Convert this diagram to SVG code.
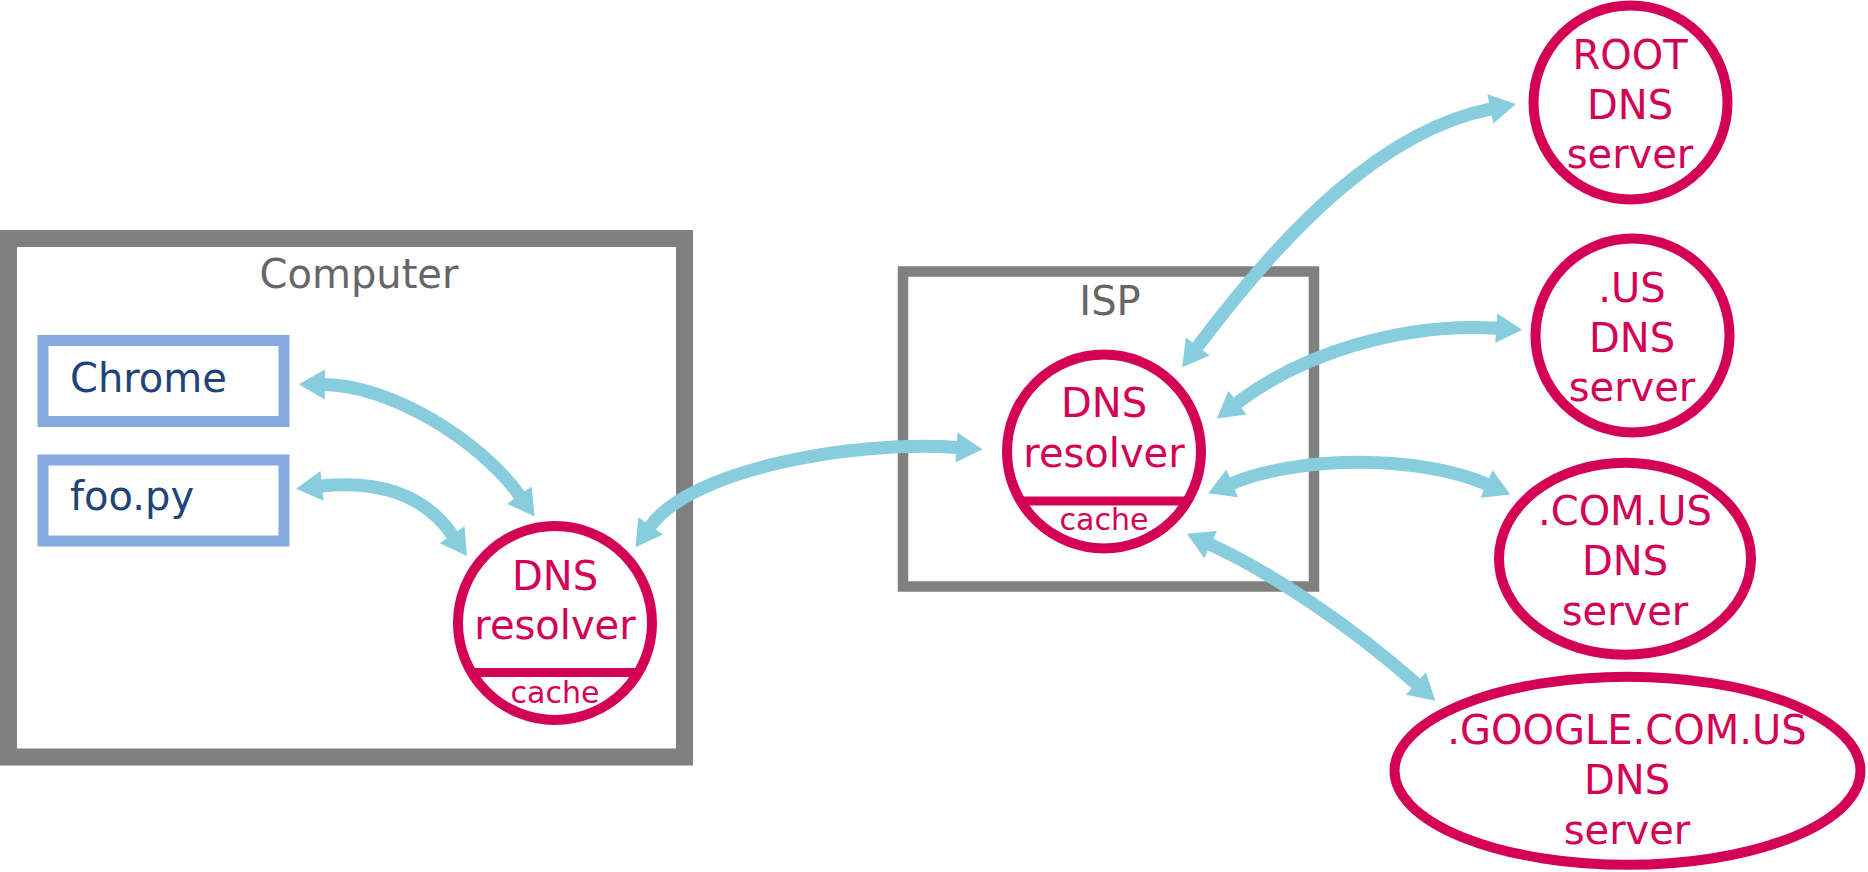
<svg xmlns="http://www.w3.org/2000/svg" width="1868" height="872" viewBox="0 0 1868 872">
  <style>
    text { font-family: "DejaVu Sans", "Liberation Sans", sans-serif; }
    .frame { fill: none; stroke: #808080; }
    .grey { fill: #666666; font-size: 40px; text-anchor: middle; }
    .app { fill: none; stroke: #87aade; stroke-width: 11; }
    .apptxt { fill: #214478; font-size: 40px; }
    .srv { fill: none; stroke: #d40055; stroke-width: 10; }
    .srvtxt { fill: #d40055; font-size: 40px; text-anchor: middle; }
    .cachetxt { fill: #d40055; font-size: 30px; text-anchor: middle; }
    .cacheline { stroke: #d40055; stroke-width: 9; }
    .conn { fill: none; stroke: #87cdde; stroke-width: 13; marker-start: url(#ah); marker-end: url(#ah); }
  </style>
  <defs>
    <marker id="ah" markerUnits="userSpaceOnUse" markerWidth="27" markerHeight="31" refX="1" refY="15.5" orient="auto-start-reverse" overflow="visible">
      <path d="M0,0.5 L26,15.5 L0,30.5 Z" fill="#87cdde"/>
    </marker>
  </defs>

  <g id="computer">
    <rect class="frame" x="8.5" y="238.5" width="676" height="518.5" stroke-width="17"/>
    <text class="grey" x="359" y="288">Computer</text>
  </g>

  <g id="chrome">
    <rect class="app" x="43" y="340.5" width="241" height="81"/>
    <text class="apptxt" x="70" y="392">Chrome</text>
  </g>

  <g id="foopy">
    <rect class="app" x="43" y="460" width="241" height="81"/>
    <text class="apptxt" x="70" y="510">foo.py</text>
  </g>

  <g id="local-resolver">
    <circle class="srv" cx="555" cy="623" r="97"/>
    <line class="cacheline" x1="471.5" y1="672.5" x2="638.5" y2="672.5"/>
    <text class="srvtxt" x="555" y="590">DNS</text>
    <text class="srvtxt" x="555" y="639">resolver</text>
    <text class="cachetxt" x="555" y="703">cache</text>
  </g>

  <g id="isp">
    <rect class="frame" x="903" y="271.5" width="411" height="315" stroke-width="10.5"/>
    <text class="grey" x="1110" y="315">ISP</text>
  </g>

  <g id="isp-resolver">
    <circle class="srv" cx="1104" cy="451.5" r="97"/>
    <line class="cacheline" x1="1020.5" y1="501" x2="1187.5" y2="501"/>
    <text class="srvtxt" x="1104" y="417">DNS</text>
    <text class="srvtxt" x="1104" y="467">resolver</text>
    <text class="cachetxt" x="1104" y="530">cache</text>
  </g>

  <g id="root-server">
    <circle class="srv" cx="1630.5" cy="102.5" r="97"/>
    <text class="srvtxt" x="1630" y="69">ROOT</text>
    <text class="srvtxt" x="1630" y="119">DNS</text>
    <text class="srvtxt" x="1630" y="168">server</text>
  </g>

  <g id="us-server">
    <circle class="srv" cx="1632.5" cy="335.5" r="97"/>
    <text class="srvtxt" x="1632" y="301.5">.US</text>
    <text class="srvtxt" x="1632" y="351.5">DNS</text>
    <text class="srvtxt" x="1632" y="401">server</text>
  </g>

  <g id="comus-server">
    <ellipse class="srv" cx="1625" cy="558.7" rx="126" ry="96"/>
    <text class="srvtxt" x="1625" y="525">.COM.US</text>
    <text class="srvtxt" x="1625" y="575">DNS</text>
    <text class="srvtxt" x="1625" y="625">server</text>
  </g>

  <g id="google-server">
    <ellipse class="srv" cx="1627.5" cy="770.8" rx="233" ry="94"/>
    <text class="srvtxt" x="1627" y="743.5">.GOOGLE.COM.US</text>
    <text class="srvtxt" x="1627" y="793.5">DNS</text>
    <text class="srvtxt" x="1627" y="843.5">server</text>
  </g>

  <g id="connectors">
    <path class="conn" d="M323.8,384.5 C390,385 480,440 520,496"/>
    <path class="conn" d="M321,486 C368,481 420,488 452.7,535.5"/>
    <path class="conn" d="M650,526.7 C690,470 850,440 957.5,447.5"/>
    <path class="conn" d="M1197.2,347.2 C1285,230 1383,130 1491.3,108.8"/>
    <path class="conn" d="M1236.7,403.3 C1300,355 1400,322 1497.2,328.2"/>
    <path class="conn" d="M1231.3,483.7 C1300,455 1420,455 1487.5,484.5"/>
    <path class="conn" d="M1209.7,544.2 C1270,572 1350,625 1416.7,684.2"/>
  </g>
</svg>
